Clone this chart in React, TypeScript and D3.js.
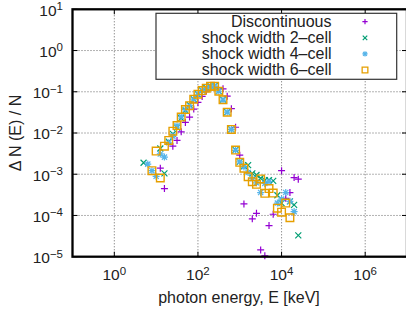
import React, { useRef, useEffect } from 'react';
import * as d3 from 'd3';

// photon spectra
const discE = [12.6, 15.8, 25.1, 31.6, 39.8, 50.1, 63.1, 79.4, 100, 126, 158, 251, 398, 501, 631, 794, 1000, 1259, 1995, 2512, 3162, 3981, 5012, 6310, 10000, 12589, 15849, 19953, 25119];
const discV = [1.4e-3, 4.5e-4, 4.8e-3, 6.6e-3, 1.07e-2, 1.8e-2, 2.43e-2, 3.8e-2, 5.5e-2, 7.7e-2, 1.05e-1, 1.3e-1, 1.18e-1, 7.8e-2, 3.9e-2, 1.38e-2, 2.9e-3, 1.9e-4, 8.3e-5, 1.13e-4, 1.46e-5, 1.05e-5, 5.7e-5, 1.07e-4, 1.22e-3, 2.6e-4, 3.6e-4, 8.3e-4, 7.6e-4];

const w2E = [5.01, 12.6, 15.8, 20, 25.1, 31.6, 39.8, 50.1, 63.1, 79.4, 100, 126, 158, 200, 251, 316, 398, 501, 631, 794, 1000, 1259, 1585, 1995, 2512, 3162, 3981, 5012, 6310, 7943, 10000, 15849, 19953, 25119];
const w2V = [1.9e-3, 4.2e-3, 1.05e-3, 6.2e-3, 9.5e-3, 1.35e-2, 2.3e-2, 3.5e-2, 4.8e-2, 6.6e-2, 8.8e-2, 1.08e-1, 1.25e-1, 1.37e-1, 1.38e-1, 1.04e-1, 6.4e-2, 3.2e-2, 1.22e-2, 3.9e-3, 2.0e-3, 1.6e-3, 1.67e-3, 1.05e-3, 9.6e-4, 8.0e-4, 7.2e-4, 7.2e-4, 6.9e-4, 3.1e-4, 2.0e-4, 2.2e-4, 1.8e-4, 3.3e-5];

const w4E = [6.31, 7.94, 10, 12.6, 15.8, 20, 25.1, 31.6, 39.8, 50.1, 63.1, 79.4, 100, 126, 158, 200, 251, 316, 398, 501, 631, 794, 1000, 1259, 1585, 1995, 2512, 3162, 3981, 5012, 7943, 10000, 12589, 15849, 19953];
const w4V = [1.76e-3, 1.22e-3, 8.9e-4, 3.1e-3, 2.6e-3, 5.8e-3, 8.4e-3, 1.5e-2, 2.5e-2, 3.7e-2, 4.6e-2, 6.6e-2, 8.7e-2, 1.07e-1, 1.22e-1, 1.37e-1, 1.37e-1, 1.03e-1, 6.3e-2, 3.2e-2, 1.22e-2, 3.8e-3, 2.0e-3, 1.5e-3, 1.1e-3, 7.8e-4, 6.2e-4, 3.6e-4, 6.0e-4, 6.6e-4, 2.0e-4, 2.5e-4, 3.6e-4, 2.2e-4, 1.24e-4];

const w6E = [7.94, 10, 12.6, 15.8, 20, 25.1, 31.6, 39.8, 50.1, 63.1, 79.4, 100, 126, 158, 200, 251, 316, 398, 501, 631, 794, 1000, 1259, 1585, 1995, 2512, 3162, 3981, 5012, 6310, 7943, 10000, 12589, 15849];
const w6V = [1.22e-3, 3.65e-3, 8.1e-4, 4.8e-3, 6.6e-3, 1.11e-2, 1.51e-2, 2.43e-2, 3.7e-2, 4.6e-2, 6.6e-2, 8.75e-2, 1.07e-1, 1.22e-1, 1.37e-1, 1.37e-1, 1.03e-1, 6.4e-2, 3.2e-2, 1.22e-2, 3.85e-3, 1.94e-3, 1.4e-3, 8.7e-4, 6.6e-4, 5.7e-4, 7.7e-4, 3.45e-4, 4.5e-4, 3.5e-4, 1.5e-4, 1.2e-4, 2.0e-4, 8.8e-5];

const seriesNames = ['Discontinuous', 'shock width 2–cell', 'shock width 4–cell', 'shock width 6–cell'];
const seriesColors = ['#9400d3', '#009e73', '#56b4e9', '#e69f00'];
const seriesShapes = ['plus', 'cross', 'star', 'square'];

const yTickExp = [1, 0, -1, -2, -3, -4, -5];
const xTickExp = [0, 2, 4, 6];

function markerPath(shape, cx, cy, k = 1) {
  const a = 3.5 * k, b = 3 * k, s = 2.6 * k, q = 3.8 * k;
  const p = `M${cx - a},${cy}h${2 * a}M${cx},${cy - a}v${2 * a}`;
  const c = `M${cx - b},${cy - b}l${2 * b},${2 * b}M${cx - b},${cy + b}l${2 * b},${-2 * b}`;
  if (shape === 'plus') return p;
  if (shape === 'cross') return c;
  if (shape === 'star') return p + `M${cx - s},${cy - s}l${2 * s},${2 * s}M${cx - s},${cy + s}l${2 * s},${-2 * s}`;
  return `M${cx - q},${cy - q}h${2 * q}v${2 * q}h${-2 * q}Z`;
}

const supNum = (e) => (e < 0 ? '\u2212' + Math.abs(e) : String(e));

export default function App() {
  const ref = useRef(null);

  useEffect(() => {
    const svg = d3.select(ref.current);
    svg.selectAll('*').remove();
    const left = 72.5, right = 407, top = 9.3, bottom = 256.7;

    const x = d3.scaleLog().domain([1e-1, 1e7]).range([left, right]);
    const y = d3.scaleLog().domain([1e-5, 1e1]).range([bottom, top]);

    const data = [
      { E: discE, V: discV },
      { E: w2E, V: w2V },
      { E: w4E, V: w4V },
      { E: w6E, V: w6V },
    ];

    // grid
    const grid = svg.append('g').attr('stroke', '#666').attr('stroke-width', 1).attr('stroke-dasharray', '1,2');
    grid.selectAll('.gx').data(xTickExp).join('line')
      .attr('x1', d => x(Math.pow(10, d))).attr('x2', d => x(Math.pow(10, d)))
      .attr('y1', top).attr('y2', bottom);
    grid.selectAll('.gy').data(yTickExp.filter(d => d < 1 && d > -5)).join('line')
      .attr('y1', d => y(Math.pow(10, d))).attr('y2', d => y(Math.pow(10, d)))
      .attr('x1', left).attr('x2', right);

    // ticks (mirrored, inward)
    const ticks = svg.append('g').attr('stroke', '#000').attr('stroke-width', 1);
    yTickExp.forEach(e => {
      const yy = y(Math.pow(10, e));
      ticks.append('line').attr('x1', left).attr('x2', left + 5).attr('y1', yy).attr('y2', yy);
      ticks.append('line').attr('x1', right - 5).attr('x2', right).attr('y1', yy).attr('y2', yy);
    });
    xTickExp.forEach(e => {
      const xx = x(Math.pow(10, e));
      ticks.append('line').attr('x1', xx).attr('x2', xx).attr('y1', bottom - 5).attr('y2', bottom);
      ticks.append('line').attr('x1', xx).attr('x2', xx).attr('y1', top).attr('y2', top + 5);
    });

    // points
    data.forEach((s, i) => {
      svg.append('g')
        .selectAll('path')
        .data(s.E.map((e, k) => [e, s.V[k]]))
        .join('path')
        .attr('d', d => markerPath(seriesShapes[i], x(d[0]), y(d[1])))
        .attr('fill', 'none')
        .attr('stroke', seriesColors[i])
        .attr('stroke-width', seriesShapes[i] === 'square' ? 1.4 : 1.2);
    });

    // frame
    svg.append('rect')
      .attr('x', left).attr('y', top).attr('width', right - left).attr('height', bottom - top)
      .attr('fill', 'none').attr('stroke', '#000').attr('stroke-width', 2.3);

    // tick labels
    const font = "'Liberation Sans', Arial, sans-serif";
    yTickExp.forEach(e => {
      const t = svg.append('text')
        .attr('x', 63).attr('y', y(Math.pow(10, e)) + 6.3)
        .attr('text-anchor', 'end').attr('font-family', font).attr('font-size', 15.5).attr('fill', '#222');
      t.append('tspan').text('10');
      t.append('tspan').attr('dy', -5.5).attr('font-size', 11.5).text(supNum(e));
    });
    xTickExp.forEach(e => {
      const t = svg.append('text')
        .attr('x', x(Math.pow(10, e))).attr('y', 280)
        .attr('text-anchor', 'middle').attr('font-family', font).attr('font-size', 15.5).attr('fill', '#222');
      t.append('tspan').text('10');
      t.append('tspan').attr('dy', -5.5).attr('font-size', 11.5).text(supNum(e));
    });

    // axis titles
    svg.append('text')
      .attr('x', 239).attr('y', 303)
      .attr('text-anchor', 'middle').attr('font-family', font).attr('font-size', 16).attr('fill', '#222')
      .text('photon energy, E [keV]');
    svg.append('text')
      .attr('transform', `translate(21,${(top + bottom) / 2}) rotate(-90)`)
      .attr('text-anchor', 'middle').attr('font-family', font).attr('font-size', 16).attr('fill', '#222')
      .text('\u0394 N (E) / N');

    // legend
    const lg = svg.append('g');
    lg.append('rect')
      .attr('x', 156).attr('y', 13.3).attr('width', 240.7).attr('height', 66)
      .attr('fill', '#fff').attr('stroke', '#333').attr('stroke-width', 1.2);
    seriesNames.forEach((name, i) => {
      const ry = 21.7 + 16.1 * i;
      lg.append('text')
        .attr('x', 331.5).attr('y', ry + 5.2)
        .attr('text-anchor', 'end').attr('font-family', font).attr('font-size', 16).attr('fill', '#222')
        .text(name);
      lg.append('path')
        .attr('d', markerPath(seriesShapes[i], 365, ry, 0.75))
        .attr('fill', 'none').attr('stroke', seriesColors[i])
        .attr('stroke-width', seriesShapes[i] === 'square' ? 1.3 : 1.2);
    });
  }, []);

  return (
    <svg ref={ref} width={406} height={318}
      style={{ position: 'absolute', left: 0, top: 0, background: '#fff' }}
      role="img" aria-label="Photon spectrum scatter plot" />
  );
}
